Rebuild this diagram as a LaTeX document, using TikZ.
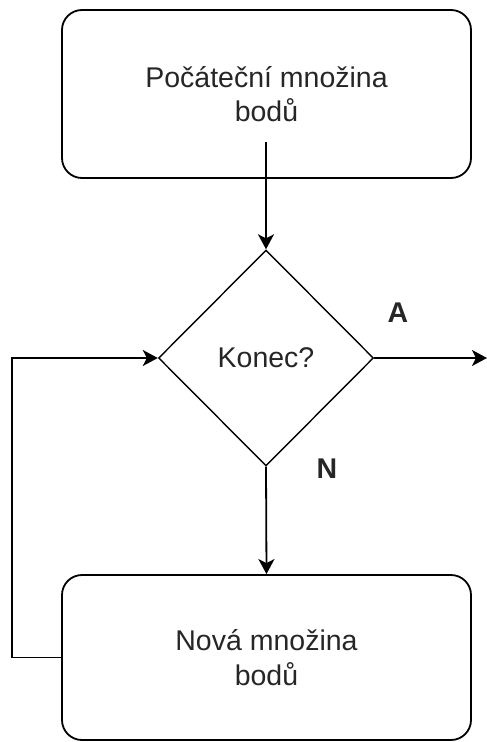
\documentclass[tikz,border=0pt]{standalone}
\usepackage{fontspec}
\setmainfont{Liberation Sans}
\usetikzlibrary{shapes.geometric,arrows.meta}
\definecolor{txt}{HTML}{262626}
\begin{document}
\begin{tikzpicture}[x=1pt,y=-1pt,
  every node/.style={font=\fontsize{28.5}{34.5}\selectfont, text=txt},
  procbox/.style={draw, line width=1.8pt, rounded corners=20pt, minimum width=409pt, inner sep=0pt, align=center},
  decision/.style={draw, line width=1.4pt, shape=diamond, minimum width=215pt, minimum height=216pt, inner sep=0pt},
  conn/.style={line width=1.8pt, -{Stealth[length=15pt,width=16pt,inset=4pt]}},
  lbl/.style={font=\fontsize{28.5}{34.5}\selectfont\bfseries}]
\useasboundingbox (0,0) rectangle (487,742);
\node[procbox, minimum height=168pt] (start) at (266.5,94) {Počáteční množina\\bodů};
\node[decision] (dec) at (266,358) {Konec?};
\node[procbox, minimum height=165pt] (new) at (266.5,657.5) {Nová množina\\bodů};
\coordinate (s) at (266,142);
\coordinate (out) at (487,358);
\node[lbl] (A) at (398,313) {A};
\node[lbl] (N) at (327,469) {N};
\draw[conn] (s) -- (dec.north);
\draw[conn] (dec.east) -- (out);
\draw[conn] (dec.south) -- (new.north);
\draw[conn] (new.west) -- ++(-49,0) |- (dec.west);
\end{tikzpicture}
\end{document}
